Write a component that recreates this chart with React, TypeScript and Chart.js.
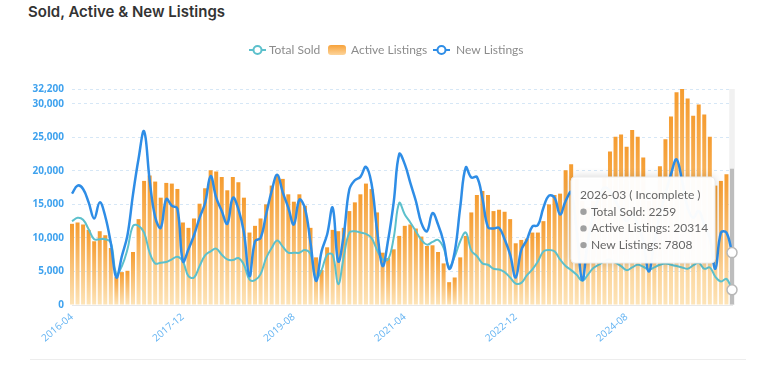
import React, { useEffect, useRef } from "react";
import { Chart, registerables } from "chart.js";

Chart.register(...registerables);

// ---------- categories ----------
const startYear = 2016;
const startMonth = 4;
const monthCount = 120;
const months: string[] = [];
for (let i = 0; i < monthCount; i++) {
  const m = startMonth - 1 + i;
  const y = startYear + Math.floor(m / 12);
  const mm = (m % 12) + 1;
  months.push(`${y}-${String(mm).padStart(2, "0")}`);
}
const tickEvery = 20;
const yTicks = [0, 5000, 10000, 15000, 20000, 25000, 30000, 32200];
const yMax = 32200;

// ---------- series ----------
const activeListings = [
  12100, 12300, 12000, 11200, 9500, 11000, 10400, 8500, 4200, 4900,
  5100, 7900, 12800, 18500, 19300, 18400, 16000, 18200, 18100, 17300,
  12300, 11500, 12900, 15100, 17400, 20100, 19900, 19100, 17100, 19100,
  18300, 16000, 10800, 11800, 12900, 15000, 17800, 19400, 18800, 16500,
  15400, 16500, 14800, 11500, 7100, 5200, 8600, 11200, 11000, 11500,
  14000, 15300, 16500, 18100, 17300, 13800, 7800, 7000, 8300, 10300,
  11800, 12000, 11400, 10200, 8800, 8900, 7900, 6200, 3400, 4100,
  7100, 10300, 13800, 16400, 17000, 16400, 14000, 14200, 13900, 12800,
  9200, 9700, 9900, 10800, 10800, 12500, 15000, 16400, 16600, 20100,
  21000, 18800, 15500, 14500, 15500, 17000, 19000, 22900, 25100, 25400,
  23600, 26100, 25100, 22000, 15500, 17000, 20700, 24700, 28100, 31700,
  32200, 30800, 28200, 29900, 28400, 25100, 17800, 18500, 19500, 20314,
];

const newListings = [
  16600, 17800, 17300, 15300, 12900, 15300, 13200, 9200, 4100, 7300,
  10400, 16500, 21800, 25900, 18600, 13100, 11500, 15800, 14800, 14400,
  6500, 8300, 10400, 13000, 15200, 19200, 16000, 14000, 12100, 16000,
  14300, 10800, 4300, 9500, 10000, 13500, 17000, 19400, 16800, 14500,
  12000, 15700, 14400, 9300, 3600, 8000, 10500, 14500, 6500, 10500,
  17200, 18600, 19100, 20600, 18100, 11200, 5800, 9700, 15300, 22500,
  21000, 18200, 15500, 12200, 11000, 13700, 12000, 9400, 5400, 7900,
  14600, 20500, 19000, 19100, 15900, 11600, 11400, 11500, 9800, 7500,
  4100, 8200, 9700, 11700, 11900, 14500, 16300, 16000, 13500, 15500,
  16800, 11000, 3700, 9500, 13500, 16000, 17500, 17000, 15500, 14000,
  12500, 13500, 12000, 9500, 5000, 9500, 13500, 16500, 19500, 21700,
  18500, 14500, 13000, 14000, 12000, 10000, 5400, 10800, 10800, 7808,
];

const totalSold = [
  12500, 13000, 12700, 11300, 9800, 9800, 9800, 9300, 4600, 5800,
  8300, 11800, 11800, 10800, 7800, 6200, 6300, 6400, 6800, 7200,
  6500, 4300, 4100, 5800, 7400, 8000, 8400, 7500, 6800, 6700,
  7000, 6000, 3800, 3700, 4600, 7000, 8500, 9600, 8700, 7800,
  7800, 7800, 8200, 7600, 4000, 5200, 7500, 7500, 3100, 7200,
  10800, 11000, 10800, 10600, 10000, 8200, 6800, 6800, 10000, 15200,
  13500, 12300, 11000, 9700, 9000, 9400, 9700, 8500, 5700, 7200,
  9500, 10800, 8100, 7300, 6200, 6000, 5400, 5300, 4900, 4100,
  3200, 3300, 4400, 5300, 6500, 8000, 8200, 8000, 6800, 5800,
  5200, 4500, 3600, 4500, 5500, 6000, 6500, 6800, 6300, 5800,
  5200, 5600, 6000, 5700, 5300, 5600, 6000, 6200, 6000, 5800,
  5600, 5400, 5900, 6300, 5400, 5600, 4200, 3500, 3900, 2259,
];

const seriesNames = ["Total Sold", "Active Listings", "New Listings"];
const incompleteNote = "( Incomplete )";

const soldColor = "#5cc0cc";
const newColor = "#2e8de6";
const barTop = "#f59c30";
const barBottom = "#fde4b8";
const last = monthCount - 1;

function barColor(c: any) {
  if (c.type !== "data") return barTop;
  if (c.dataIndex === last) return "#bdbdbd";
  const chart = c.chart;
  const ys = chart.scales.y;
  if (!ys || !chart.chartArea) return barTop;
  const yTop = ys.getPixelForValue(c.raw);
  const yBot = ys.getPixelForValue(0);
  if (!isFinite(yTop) || !isFinite(yBot) || yBot - yTop < 1) return barTop;
  const g = chart.ctx.createLinearGradient(0, yTop, 0, yBot);
  g.addColorStop(0, barTop);
  g.addColorStop(1, barBottom);
  return g;
}

const shadowPlugin = {
  id: "hoverShadow",
  beforeDatasetsDraw(chart: any) {
    const { ctx, chartArea, scales } = chart;
    const x = scales.x.getPixelForValue(last);
    const w = chartArea.width / (monthCount - 1);
    ctx.save();
    ctx.fillStyle = "rgba(170,170,170,0.16)";
    ctx.fillRect(x - w / 2, chartArea.top, w, chartArea.bottom - chartArea.top);
    ctx.restore();
  },
};

const legendPlugin = {
  id: "customLegend",
  afterDraw(chart: any) {
    const { ctx } = chart;
    const y = 50;
    const items = [
      { label: seriesNames[0], kind: "line", color: soldColor, iconX: 249, textX: 269 },
      { label: seriesNames[1], kind: "rect", color: barTop, iconX: 328, textX: 351 },
      { label: seriesNames[2], kind: "line", color: newColor, iconX: 433, textX: 456 },
    ];
    ctx.save();
    for (const it of items) {
      if (it.kind === "line") {
        ctx.strokeStyle = it.color;
        ctx.lineWidth = 2;
        ctx.beginPath();
        ctx.moveTo(it.iconX, y);
        ctx.lineTo(it.iconX + 17, y);
        ctx.stroke();
        ctx.beginPath();
        ctx.arc(it.iconX + 8.5, y, 4, 0, Math.PI * 2);
        ctx.fillStyle = "#fff";
        ctx.fill();
        ctx.stroke();
      } else {
        const g = ctx.createLinearGradient(0, y - 5, 0, y + 5);
        g.addColorStop(0, "#f7a23a");
        g.addColorStop(1, "#fdd49a");
        ctx.fillStyle = g;
        ctx.beginPath();
        (ctx as any).roundRect(it.iconX, y - 5, 18, 10, 3);
        ctx.fill();
      }
      ctx.fillStyle = "#8c8c8c";
      ctx.font = "12px Lato, sans-serif";
      ctx.textBaseline = "middle";
      ctx.textAlign = "left";
      ctx.fillText(it.label, it.textX, y);
    }
    ctx.restore();
  },
};

const tooltipPlugin = {
  id: "fixedTooltip",
  afterDraw(chart: any) {
    const { ctx, scales } = chart;
    const px = scales.x.getPixelForValue(last);
    const bw = 144;
    const bh = 86;
    const bx = px - 17 - bw;
    const by = 177;
    ctx.save();
    ctx.shadowColor = "rgba(0,0,0,0.18)";
    ctx.shadowBlur = 10;
    ctx.fillStyle = "rgba(255,255,255,0.97)";
    ctx.beginPath();
    (ctx as any).roundRect(bx, by, bw, bh, 4);
    ctx.fill();
    ctx.shadowColor = "transparent";
    ctx.strokeStyle = "#ececec";
    ctx.lineWidth = 1;
    ctx.stroke();
    ctx.fillStyle = "#666";
    ctx.font = "12px Lato, sans-serif";
    ctx.textBaseline = "middle";
    ctx.textAlign = "left";
    ctx.fillText(`${months[last]} ${incompleteNote}`, bx + 9, by + 18);
    const rows: [string, number][] = [
      [seriesNames[0], totalSold[last]],
      [seriesNames[1], activeListings[last]],
      [seriesNames[2], newListings[last]],
    ];
    rows.forEach((r, k) => {
      const ty = by + 18 + 16.7 * (k + 1);
      ctx.fillStyle = "#a0a0a0";
      ctx.beginPath();
      ctx.arc(bx + 12.5, ty, 3.2, 0, Math.PI * 2);
      ctx.fill();
      ctx.fillStyle = "#666";
      ctx.fillText(`${r[0]}: ${r[1]}`, bx + 20, ty);
    });
    ctx.restore();
  },
};

export default function App() {
  const ref = useRef<HTMLCanvasElement | null>(null);
  useEffect(() => {
    if (!ref.current) return;
    const chart = new Chart(ref.current, {
      type: "bar",
      data: {
        labels: months,
        datasets: [
          {
            type: "line",
            label: seriesNames[2],
            data: newListings,
            borderColor: newColor,
            borderWidth: 2.5,
            tension: 0.4,
            fill: false,
            pointRadius: (c: any) => (c.dataIndex === last ? 5 : 0),
            pointBackgroundColor: "#fff",
            pointBorderColor: "#b8b8b8",
            pointBorderWidth: 1.5,
            order: 0,
          } as any,
          {
            type: "line",
            label: seriesNames[0],
            data: totalSold,
            borderColor: soldColor,
            borderWidth: 2,
            tension: 0.4,
            fill: false,
            pointRadius: (c: any) => (c.dataIndex === last ? 5 : 0),
            pointBackgroundColor: "#fff",
            pointBorderColor: "#b8b8b8",
            pointBorderWidth: 1.5,
            order: 1,
          } as any,
          {
            type: "bar",
            label: seriesNames[1],
            data: activeListings,
            backgroundColor: barColor,
            categoryPercentage: 0.8,
            barPercentage: 0.9,
            clip: false,
            order: 2,
          } as any,
        ],
      },
      options: {
        responsive: false,
        animation: false,
        events: [],
        layout: { padding: { left: 0, right: 38, top: 89, bottom: 0 } },
        plugins: { legend: { display: false }, tooltip: { enabled: false } },
        scales: {
          x: {
            offset: false,
            grid: { display: false, drawTicks: false },
            border: { display: true, color: "#e8e8e8" },
            ticks: {
              autoSkip: false,
              maxRotation: 40,
              minRotation: 40,
              padding: 6,
              color: "#63b3f2",
              font: { size: 10, family: "'Open Sans', sans-serif" },
              callback: (_v: any, i: number) => (i % tickEvery === 0 ? months[i] : ""),
            },
            afterFit: (s: any) => {
              s.height = 65;
              s.paddingLeft = 0;
              s.paddingRight = 0;
            },
          },
          y: {
            min: 0,
            max: yMax,
            afterBuildTicks: (s: any) => {
              s.ticks = yTicks.map((v) => ({ value: v }));
            },
            grid: { color: "#d6e7f6", drawTicks: false },
            border: { display: false, dash: [3, 3] },
            ticks: {
              padding: 8,
              color: "#3fa2ee",
              font: { size: 10, weight: "bold", family: "'Open Sans', sans-serif" },
              callback: (v: any) => Number(v).toLocaleString("en-US"),
            },
            afterFit: (s: any) => {
              s.width = 72;
              s.paddingTop = 0;
              s.paddingBottom = 0;
            },
          },
        },
      } as any,
      plugins: [shadowPlugin, legendPlugin, tooltipPlugin],
    });
    return () => chart.destroy();
  }, []);

  return (
    <div
      style={{
        position: "absolute",
        left: 0,
        top: 0,
        width: 770,
        height: 370,
        background: "#fff",
        overflow: "hidden",
      }}
    >
      <div
        style={{
          position: "absolute",
          left: 28,
          top: 3,
          font: "600 15px Inter, sans-serif",
          lineHeight: "18px",
          color: "#333",
          whiteSpace: "nowrap",
        }}
      >
        Sold, Active &amp; New Listings
      </div>
      <canvas
        ref={ref}
        width={770}
        height={370}
        style={{ position: "absolute", left: 0, top: 0, width: 770, height: 370 }}
      />
      <div
        style={{
          position: "absolute",
          left: 30,
          top: 359,
          width: 716,
          height: 1,
          background: "#ededed",
        }}
      />
    </div>
  );
}
